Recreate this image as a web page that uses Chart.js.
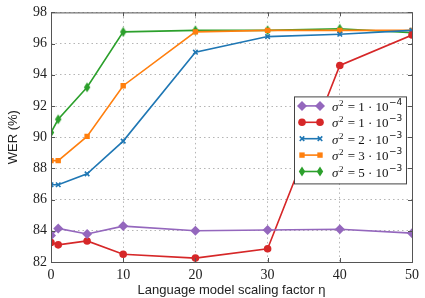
<!DOCTYPE html>
<html>
<head>
<meta charset="utf-8">
<script src="https://cdn.jsdelivr.net/npm/chart.js@4"></script>
<style>
  html, body { margin: 0; padding: 0; background: #fff; }
  #wrap { width: 425px; height: 298px; }
</style>
</head>
<body>
<div id="wrap"><canvas id="chart"></canvas></div>
<script>
// scaling factor eta
var etaValues = [0, 1, 5, 10, 20, 30, 40, 50];

var wer1e4 = [83.7, 84.15, 83.8, 84.3, 84.0, 84.05, 84.1, 83.85];
var wer1e3 = [83.25, 83.1, 83.35, 82.5, 82.25, 82.85, 94.6, 96.55];
var wer2e3 = [86.95, 86.95, 87.65, 89.75, 95.45, 96.45, 96.6, 96.85];
var wer3e3 = [88.5, 88.5, 90.05, 93.3, 96.75, 96.85, 96.85, 96.85];
var wer5e3 = [90.3, 91.15, 93.2, 96.75, 96.85, 96.85, 96.95, 96.7];

// legend labels: mantissa and exponent of sigma^2
var sigmaMant = ["1", "1", "2", "3", "5"];
var sigmaExp = ["−4", "−3", "−3", "−3", "−3"];

var xTicks = [0, 10, 20, 30, 40, 50];
var yTicks = [82, 84, 86, 88, 90, 92, 94, 96, 98];

// thin diamond marker like matplotlib 'd'
function thinDiamond(color) {
    var c = document.createElement("canvas");
    c.width = 8; c.height = 11;
    var g = c.getContext("2d");
    g.fillStyle = color;
    g.beginPath();
    g.moveTo(4, 0.5); g.lineTo(7.2, 5.5); g.lineTo(4, 10.5); g.lineTo(0.8, 5.5);
    g.closePath();
    g.fill();
    return c;
}

function toPoints(ys) {
    return etaValues.map(function (x, i) { return { x: x, y: ys[i] }; });
}

function makeSet(i, ys, color, style, radius) {
    return {
        label: "σ² = " + sigmaMant[i] + " · 10" + (sigmaExp[i] === "−4" ? "⁻⁴" : "⁻³"),
        data: toPoints(ys),
        borderColor: color,
        backgroundColor: color,
        borderWidth: 1.6,
        pointStyle: style,
        pointRadius: radius,
        pointBorderWidth: style === "crossRot" ? 1.6 : 0,
        pointBorderColor: color,
        pointBackgroundColor: color,
        tension: 0,
        clip: 0
    };
}

var datasets = [
    makeSet(0, wer1e4, "#9467bd", "rectRot", 5),
    makeSet(1, wer1e3, "#d62728", "circle", 3.8),
    makeSet(2, wer2e3, "#1f77b4", "crossRot", 3.2),
    makeSet(3, wer3e3, "#ff7f0e", "rect", 3.8),
    makeSet(4, wer5e3, "#2ca02c", thinDiamond("#2ca02c"), 4)
];

// frame around plot + legend box inside it
var framePlugin = {
    id: "frame",
    afterDatasetsDraw: function (chart) {
        var a = chart.chartArea, ctx = chart.ctx;
        ctx.save();
        ctx.strokeStyle = "#555";
        ctx.lineWidth = 1;
        ctx.strokeRect(a.left + 0.5, a.top + 0.5, a.right - a.left, a.bottom - a.top);

        // inward tick marks
        var xs = chart.scales.x, ys = chart.scales.y;
        ctx.beginPath();
        xTicks.forEach(function (t) {
            var px = Math.round(xs.getPixelForValue(t)) + 0.5;
            ctx.moveTo(px, a.bottom); ctx.lineTo(px, a.bottom - 4);
            ctx.moveTo(px, a.top); ctx.lineTo(px, a.top + 4);
        });
        yTicks.forEach(function (t) {
            var py = Math.round(ys.getPixelForValue(t)) + 0.5;
            ctx.moveTo(a.left, py); ctx.lineTo(a.left + 4, py);
            ctx.moveTo(a.right, py); ctx.lineTo(a.right - 4, py);
        });
        ctx.stroke();

        // legend
        var bx = a.right - 118, by = a.top + 84, bw = 112, bh = 87;
        ctx.fillStyle = "#fff";
        ctx.fillRect(bx, by, bw, bh);
        ctx.strokeStyle = "#444";
        ctx.strokeRect(bx + 0.5, by + 0.5, bw, bh);
        chart.data.datasets.forEach(function (ds, i) {
            var ry = by + 9.5 + i * 16.4;
            ctx.strokeStyle = ds.borderColor;
            ctx.lineWidth = 1.6;
            ctx.beginPath();
            ctx.moveTo(bx + 8, ry); ctx.lineTo(bx + 26, ry);
            ctx.stroke();
            [bx + 8, bx + 26].forEach(function (px) {
                ctx.fillStyle = ds.pointBackgroundColor;
                ctx.strokeStyle = ds.pointBorderColor;
                ctx.lineWidth = ds.pointBorderWidth || 1;
                Chart.helpers.drawPoint(ctx, {
                    pointStyle: ds.pointStyle, radius: ds.pointRadius,
                    borderWidth: ds.pointBorderWidth, rotation: 0
                }, px, ry);
            });
            // sigma^2 = m · 10^e
            ctx.fillStyle = "#111";
            ctx.textBaseline = "alphabetic";
            var tx = bx + 38, base = ry + 5;
            ctx.font = "italic 13px 'Liberation Serif'";
            ctx.fillText("σ", tx, base);
            tx += ctx.measureText("σ").width + 0.5;
            ctx.font = "9px 'Liberation Serif'";
            ctx.fillText("2", tx, base - 5);
            tx += ctx.measureText("2").width + 1;
            ctx.font = "13px 'Liberation Serif'";
            var mid = " = " + sigmaMant[i] + " · 10";
            ctx.fillText(mid, tx, base);
            tx += ctx.measureText(mid).width + 0.5;
            ctx.font = "9px 'DejaVu Sans'";
            ctx.fillText(sigmaExp[i], tx, base - 6);
        });
        ctx.restore();
    }
};

new Chart(document.getElementById("chart"), {
    type: "line",
    data: { datasets: datasets },
    plugins: [framePlugin],
    options: {
        responsive: true,
        maintainAspectRatio: false,
        animation: false,
        layout: { padding: { top: 8, right: 13, left: 0, bottom: 0 } },
        plugins: { legend: { display: false }, tooltip: { enabled: false } },
        scales: {
            x: {
                type: "linear",
                min: 0, max: 50,
                afterBuildTicks: function (s) { s.ticks = xTicks.map(function (v) { return { value: v }; }); },
                afterFit: function (s) { s.height = 36; },
                grid: { color: "#b5b5b5", drawTicks: false },
                border: { display: false, dash: [1.5, 3] },
                ticks: { color: "#222", padding: 5, maxRotation: 0, font: { family: "Liberation Serif", size: 14 } },
                title: {
                    display: true, text: "Language model scaling factor η", color: "#222",
                    padding: { top: 0, bottom: 0 },
                    font: { family: "Liberation Sans", size: 13 }
                }
            },
            y: {
                min: 82, max: 98,
                afterBuildTicks: function (s) { s.ticks = yTicks.map(function (v) { return { value: v }; }); },
                afterFit: function (s) { s.width = 51; },
                grid: { color: "#b5b5b5", drawTicks: false },
                border: { display: false, dash: [1.5, 3] },
                ticks: { color: "#222", padding: 4, font: { family: "Liberation Serif", size: 14 } },
                title: {
                    display: true, text: "WER (%)", color: "#222",
                    padding: { top: 6, bottom: 2 },
                    font: { family: "Liberation Sans", size: 13 }
                }
            }
        }
    }
});
</script>
</body>
</html>
